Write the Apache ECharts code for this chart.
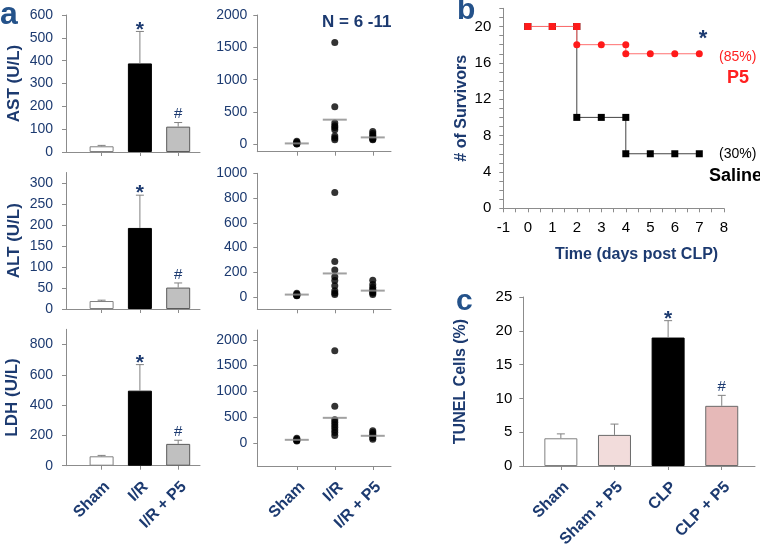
<!DOCTYPE html>
<html>
<head>
<meta charset="utf-8">
<script src="https://cdn.jsdelivr.net/npm/echarts@6/dist/echarts.min.js"></script>
<style>
  html, body { margin: 0; padding: 0; background: #fff; }
  #chart { width: 760px; height: 545px; }
</style>
</head>
<body>
<div id="chart"></div>
<script>
// ---- data ----
const groups = ['Sham', 'I/R', 'I/R + P5'];

const astMean = [25, 388, 111];
const astErr = [29, 528, 129];
const altMean = [19, 193, 51];
const altErr = [21, 271, 62];
const ldhMean = [62, 495, 144];
const ldhErr = [68, 667, 168];
const sigMarks = ['', '*', '#'];

// individual animals
const astSham = [50, 35, 20, 15, 10, 5];
const astIR = [1574, 583, 330, 290, 260, 225, 130, 100, 70];
const astP5 = [200, 170, 140, 115, 95, 80, 70];
const altSham = [30, 22, 18, 15, 12, 10];
const altIR = [845, 287, 217, 164, 132, 90, 51, 32, 19];
const altP5 = [134, 100, 78, 60, 51, 40, 32, 20];
const ldhSham = [90, 70, 55, 45, 35];
const ldhIR = [1789, 711, 446, 400, 350, 300, 250, 200, 140];
const ldhP5 = [232, 200, 165, 130, 100, 70];
const astDotMean = [15, 382, 108];
const altDotMean = [19, 190, 51];
const ldhDotMean = [58, 485, 136];

// tick labels
const astTicks = [0, 100, 200, 300, 400, 500, 600];
const altTicks = [0, 50, 100, 150, 200, 250, 300];
const ldhTicks = [0, 200, 400, 600, 800];
const astDotTicks = [0, 500, 1000, 1500, 2000];
const altDotTicks = [0, 200, 400, 600, 800, 1000];
const ldhDotTicks = [0, 500, 1000, 1500, 2000];
const tunelTicks = [0, 5, 10, 15, 20, 25];

// survival
const days = [0, 1, 2, 2, 3, 4, 4, 5, 6, 7];
const p5Surv = [20, 20, 20, 18, 18, 18, 17, 17, 17, 17];
const salineSurv = [20, 20, 20, 10, 10, 10, 6, 6, 6, 6];

// TUNEL
const tunelGroups = ['Sham', 'Sham + P5', 'CLP', 'CLP + P5'];
const tunelMean = [4.1, 4.6, 19.0, 8.9];
const tunelErr = [4.75, 6.2, 21.5, 10.45];
const tunelMarks = ['', '', '*', '#'];

// ---- styling ----
const FONT = '"Liberation Sans", Arial, sans-serif';
const navy = '#1c3a70';
const axisGray = '#8c8c8c';
const aFill = ['#ffffff', '#000000', '#c0c0c0'];
const aBorder = ['#808080', '#000000', '#5a5a5a'];
const cFill = ['#ffffff', '#f2dcdb', '#000000', '#e6b9b8'];
const cBorder = ['#808080', '#6a6a6a', '#000000', '#6a6a6a'];

const grids = [
  { left: 66, top: 15, width: 134, height: 137 },
  { left: 66, top: 172.5, width: 134, height: 136.5 },
  { left: 66, top: 329.3, width: 134, height: 136.4 },
  { left: 257.3, top: 15, width: 133.7, height: 136.7 },
  { left: 257.3, top: 173.3, width: 133.7, height: 136 },
  { left: 257.3, top: 330, width: 133.7, height: 136 },
  { left: 503.3, top: 8.3, width: 220.5, height: 200 },
  { left: 523.3, top: 297, width: 231.7, height: 169 }
].map(g => Object.assign(g, { outerBoundsMode: 'none', containLabel: false }));

function catX(gi, min, max, names, showLabels) {
  const vals = names.map((n, i) => i + 1);
  return {
    type: 'value', gridIndex: gi, min: min, max: max,
    splitLine: { show: false },
    axisLine: { onZero: false, lineStyle: { color: axisGray } },
    axisTick: { customValues: vals, length: 4, lineStyle: { color: axisGray } },
    axisLabel: {
      show: showLabels, customValues: vals, rotate: 45, margin: 13,
      verticalAlign: 'top',
      formatter: v => names[v - 1] || '',
      color: navy, fontFamily: FONT, fontWeight: 'bold', fontSize: 16
    }
  };
}

function valY(gi, min, max, ticks, name, labelColor, margin, nameGap) {
  return {
    type: 'value', gridIndex: gi, min: min, max: max,
    splitLine: { show: false },
    axisLine: { show: true, onZero: false, lineStyle: { color: axisGray } },
    axisTick: { show: true, customValues: ticks, length: 4, lineStyle: { color: axisGray } },
    axisLabel: { customValues: ticks, formatter: v => String(v), color: labelColor, fontFamily: FONT, fontSize: 14, margin: margin },
    name: name, nameLocation: 'middle', nameGap: nameGap || 43, nameRotate: 90,
    nameTextStyle: { color: navy, fontFamily: FONT, fontWeight: 'bold', fontSize: 17 }
  };
}

function barSeries(gi, means, fills, borders, width) {
  return {
    type: 'bar', xAxisIndex: gi, yAxisIndex: gi, barWidth: width, z: 3,
    data: means.map((m, i) => ({
      value: [i + 1, m],
      itemStyle: { color: fills[i], borderColor: borders[i], borderWidth: 1 }
    }))
  };
}

function errSeries(gi, means, errs, marks) {
  return {
    type: 'custom', xAxisIndex: gi, yAxisIndex: gi, z: 4,
    data: means.map((m, i) => [i + 1, m, errs[i]]),
    renderItem(params, api) {
      const x = api.value(0);
      const base = api.coord([x, api.value(1)]);
      const top = api.coord([x, api.value(2)]);
      const mark = marks[params.dataIndex];
      const kids = [
        { type: 'line', shape: { x1: base[0], y1: base[1], x2: top[0], y2: top[1] }, style: { stroke: '#808080', lineWidth: 1 } },
        { type: 'line', shape: { x1: top[0] - 4, y1: top[1], x2: top[0] + 4, y2: top[1] }, style: { stroke: '#808080', lineWidth: 1 } }
      ];
      if (mark === '*') {
        kids.push({ type: 'text', x: top[0], y: top[1] - 12, style: { text: '*', fill: navy, font: 'bold 21px ' + FONT, align: 'center', verticalAlign: 'top' } });
      } else if (mark === '#') {
        kids.push({ type: 'text', x: top[0], y: top[1] - 1, style: { text: '#', fill: navy, font: '15px ' + FONT, align: 'center', verticalAlign: 'bottom' } });
      }
      return { type: 'group', children: kids };
    }
  };
}

function dotSeries(gi, cols, means) {
  const pts = [];
  cols.forEach((c, i) => c.forEach(v => pts.push([i + 1, v])));
  return [
    {
      type: 'scatter', xAxisIndex: gi, yAxisIndex: gi, symbolSize: 7, z: 3,
      itemStyle: { color: '#000' }, data: pts
    },
    {
      type: 'scatter', xAxisIndex: gi, yAxisIndex: gi, symbol: 'rect', symbolSize: [24, 2], z: 4,
      itemStyle: { color: '#8a8a8a' }, data: means.map((m, i) => [i + 1, m])
    }
  ];
}

const xAxes = [
  catX(0, 0.07, 3.57, groups, false),
  catX(1, 0.07, 3.57, groups, false),
  catX(2, 0.07, 3.57, groups, true),
  catX(3, -0.04, 3.48, groups, false),
  catX(4, -0.04, 3.48, groups, false),
  catX(5, -0.04, 3.48, groups, true),
  {
    type: 'value', gridIndex: 6, min: -1, max: 8, interval: 0.5,
    splitLine: { show: false },
    axisLine: { onZero: false, lineStyle: { color: axisGray } },
    axisTick: { length: 4, lineStyle: { color: axisGray } },
    axisLabel: { formatter: v => Number.isInteger(v) ? String(v) : '', color: '#000', fontFamily: FONT, fontSize: 15, margin: 12 },
    name: 'Time (days post CLP)', nameLocation: 'middle', nameGap: 38,
    nameTextStyle: { color: navy, fontFamily: FONT, fontWeight: 'bold', fontSize: 16, padding: [0, 0, 0, 46] }
  },
  catX(7, 0.3, 4.62, tunelGroups, true)
];

const yAxes = [
  valY(0, 0, 600, astTicks, 'AST (U/L)', navy, 13),
  valY(1, 0, 325, altTicks, 'ALT (U/L)', navy, 13),
  valY(2, 0, 900, ldhTicks, 'LDH (U/L)', navy, 13, 45),
  valY(3, -113, 2000, astDotTicks, '', navy, 10),
  valY(4, -100, 1000, altDotTicks, '', navy, 10),
  valY(5, -450, 2190, ldhDotTicks, '', navy, 10),
  {
    type: 'value', gridIndex: 6, min: 0, max: 22, interval: 1,
    splitLine: { show: false },
    axisLine: { show: true, onZero: false, lineStyle: { color: axisGray } },
    axisTick: { show: true, length: 4, lineStyle: { color: axisGray } },
    axisLabel: { formatter: v => (v % 4 === 0 && v <= 20) ? String(v) : '', color: '#000', fontFamily: FONT, fontSize: 15, margin: 12 },
    name: '# of Survivors', nameLocation: 'middle', nameGap: 34, nameRotate: 90,
    nameTextStyle: { color: navy, fontFamily: FONT, fontWeight: 'bold', fontSize: 16 }
  },
  valY(7, 0, 25, tunelTicks, 'TUNEL Cells (%)', '#000', 11, 55)
];
yAxes[7].axisLabel.fontSize = 15;
yAxes[7].nameTextStyle.fontSize = 16;

const series = [
  barSeries(0, astMean, aFill, aBorder, 24),
  errSeries(0, astMean, astErr, sigMarks),
  barSeries(1, altMean, aFill, aBorder, 24),
  errSeries(1, altMean, altErr, sigMarks),
  barSeries(2, ldhMean, aFill, aBorder, 24),
  errSeries(2, ldhMean, ldhErr, sigMarks),
  ...dotSeries(3, [astSham, astIR, astP5], astDotMean),
  ...dotSeries(4, [altSham, altIR, altP5], altDotMean),
  ...dotSeries(5, [ldhSham, ldhIR, ldhP5], ldhDotMean),
  {
    type: 'line', xAxisIndex: 6, yAxisIndex: 6, z: 3,
    data: days.map((d, i) => [d, salineSurv[i]]),
    symbol: 'rect', symbolSize: 7,
    lineStyle: { color: '#444', width: 1 },
    itemStyle: { color: '#000' }
  },
  {
    type: 'line', xAxisIndex: 6, yAxisIndex: 6, z: 4,
    data: days.map((d, i) => [d, p5Surv[i]]),
    symbol: (v, p) => p.dataIndex < 3 ? 'rect' : 'circle', symbolSize: 7,
    lineStyle: { color: '#ff7070', width: 1 },
    itemStyle: { color: '#ff1a1a' }
  },
  barSeries(7, tunelMean, cFill, cBorder, 33),
  errSeries(7, tunelMean, tunelErr, tunelMarks)
];

function txt(x, y, text, font, fill, align) {
  return { type: 'text', x: x, y: y, style: { text: text, font: font + ' ' + FONT, fill: fill, align: align || 'left', verticalAlign: 'middle' } };
}

const graphic = [
  txt(0, 15, 'a', 'bold 32px', '#24528a'),
  txt(457, 11, 'b', 'bold 30px', '#24528a'),
  txt(456, 302, 'c', 'bold 30px', '#24528a'),
  txt(322, 22, 'N = 6 -11', 'bold 17px', navy),
  txt(703, 39, '*', 'bold 22px', navy, 'center'),
  txt(719, 57, '(85%)', '14px', '#ff2020'),
  txt(727, 78, 'P5', 'bold 18px', '#ff2020'),
  txt(719, 154, '(30%)', '14px', '#000'),
  txt(709, 176, 'Saline', 'bold 18px', '#000')
];

const chart = echarts.init(document.getElementById('chart'));
chart.setOption({
  animation: false,
  backgroundColor: '#fff',
  grid: grids,
  xAxis: xAxes,
  yAxis: yAxes,
  series: series,
  graphic: graphic
});
</script>
</body>
</html>
